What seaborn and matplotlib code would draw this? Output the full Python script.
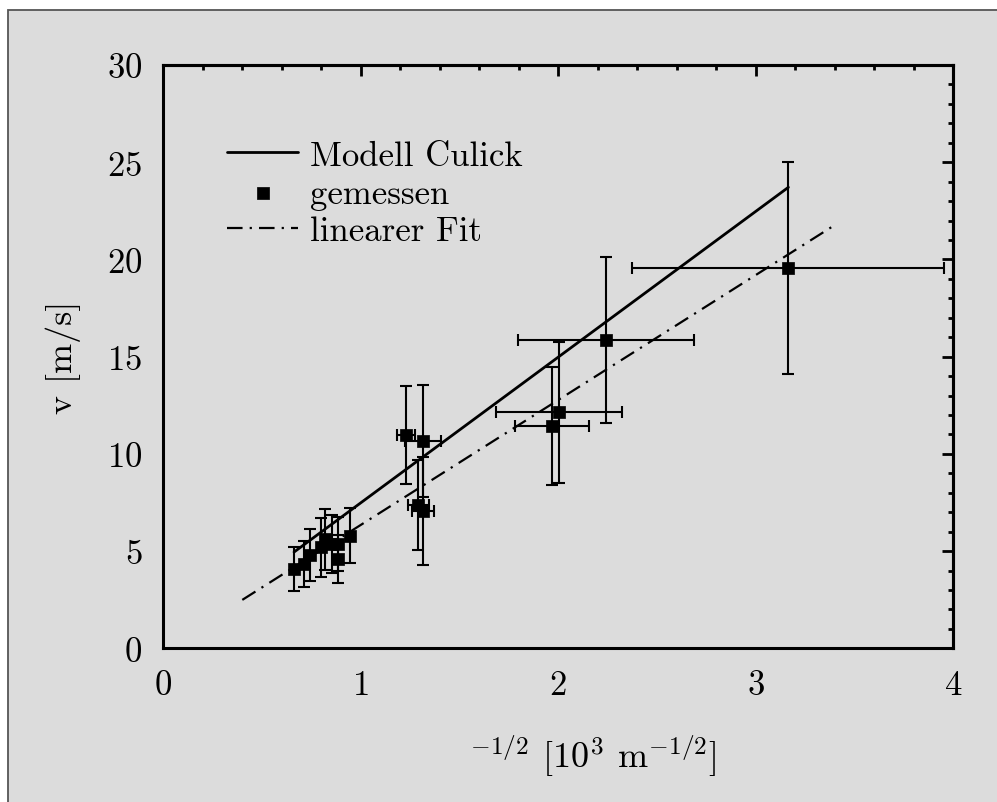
import numpy as np
import pandas as pd
import matplotlib
matplotlib.use('Agg')
import matplotlib.pyplot as plt
import seaborn as sns
from matplotlib.patches import Rectangle
from matplotlib.ticker import MultipleLocator

# ---- data ----
x_meas = [0.662, 0.714, 0.743, 0.798, 0.818, 0.853, 0.883, 0.886, 0.945,
          1.229, 1.316, 1.291, 1.316, 1.967, 2.005, 2.240, 3.165]
v_meas = [4.08, 4.34, 4.81, 5.20, 5.62, 5.37, 5.35, 4.59, 5.79,
          10.97, 10.66, 7.37, 7.08, 11.45, 12.14, 15.86, 19.55]
x_err = [0.0, 0.0, 0.0, 0.0, 0.0, 0.0, 0.0, 0.0, 0.0,
         0.046, 0.09, 0.052, 0.057, 0.188, 0.319, 0.446, 0.79]
v_err = [1.12, 1.18, 1.34, 1.52, 1.57, 1.49, 1.39, 1.25, 1.41,
         2.52, 2.90, 2.30, 2.78, 3.03, 3.62, 4.26, 5.44]
model_x = [0.662, 3.165]
model_v = [4.95, 23.71]
fit_x = [0.40, 3.40]
fit_v = [2.49, 21.77]

x_ticks = [0, 1, 2, 3, 4]
y_ticks = [0, 5, 10, 15, 20, 25, 30]

sns.set_theme(style='white')
plt.rcParams['font.family'] = ['cmr10']
plt.rcParams['mathtext.fontset'] = 'cm'
plt.rcParams['axes.formatter.use_mathtext'] = True
plt.rcParams['axes.unicode_minus'] = False

bg = '#dcdcdc'
W, H = 997, 803
fig = plt.figure(figsize=(W / 100, H / 100), dpi=100, facecolor='white')
fig.patches.append(Rectangle((8 / W, -0.1), 1.2, (1 - 11 / H) + 0.1,
                             transform=fig.transFigure, facecolor=bg,
                             edgecolor='#555555', linewidth=1.3, zorder=-10))
ax = fig.add_axes([163.3 / W, 1 - 649.3 / H, 790 / W, 583.3 / H])
ax.set_facecolor('none')

sns.lineplot(x=model_x, y=model_v, ax=ax, color='black', linewidth=2.0,
             label='Modell Culick')
ax.errorbar(x_meas, v_meas, xerr=x_err, yerr=v_err, fmt='none', ecolor='black',
            elinewidth=1.5, capsize=4.5, capthick=1.5, zorder=2)
sns.scatterplot(x=x_meas, y=v_meas, ax=ax, marker='s', s=72, color='black',
                edgecolor='black', linewidth=0.5, label='gemessen', zorder=3)
sns.lineplot(x=fit_x, y=fit_v, ax=ax, color='black', linewidth=1.6,
             linestyle=(0, (7.0, 3.2, 1.0, 3.2)), label='linearer Fit')

ax.set_xlim(0, 4)
ax.set_ylim(0, 30)
ax.set_xticks(x_ticks)
ax.set_yticks(y_ticks)
ax.xaxis.set_minor_locator(MultipleLocator(0.2))
ax.yaxis.set_minor_locator(MultipleLocator(1))
ax.tick_params(which='both', direction='out', top=False, right=False,
               width=2, color='black', labelsize=25, labelcolor='black')
ax.tick_params(which='major', length=8, pad=7)
ax.tick_params(which='minor', length=3.5)
for s in ax.spines.values():
    s.set_visible(True)
    s.set_linewidth(2.2)
    s.set_color('black')

secx = ax.secondary_xaxis('top')
secx.set_xticks(x_ticks)
secx.xaxis.set_minor_locator(MultipleLocator(0.2))
secx.tick_params(which='both', direction='in', labeltop=False, width=2, color='black')
secx.tick_params(which='major', length=8)
secx.tick_params(which='minor', length=3.5)
secx.spines['top'].set_linewidth(2.2)
secx.spines['top'].set_color('black')

secy = ax.secondary_yaxis('right')
secy.set_yticks(y_ticks)
secy.yaxis.set_minor_locator(MultipleLocator(1))
secy.tick_params(which='both', direction='in', labelright=False, width=2, color='black')
secy.tick_params(which='major', length=8)
secy.tick_params(which='minor', length=3.5)
secy.spines['right'].set_linewidth(2.2)
secy.spines['right'].set_color('black')

ax.set_ylabel('v [m/s]', fontsize=26, color='black')
ax.yaxis.set_label_coords((81 - 163.3) / 790, 0.5)
ax.set_xlabel(r'$^{\mathrm{-1/2}}$ [10$^{3}$ m$^{\mathrm{-1/2}}$]', fontsize=26, color='black')
ax.xaxis.set_label_coords((593 - 163.3) / 790, (649.3 - 733) / 583.3)

handles, labels = ax.get_legend_handles_labels()
leg = ax.legend(handles, labels, loc='upper left',
                bbox_to_anchor=((227 - 163.3) / 790, (649.3 - 141) / 583.3),
                frameon=False, fontsize=25, borderpad=0, borderaxespad=0,
                handlelength=2.05, handletextpad=0.35, labelspacing=0.18)
for t in leg.get_texts():
    t.set_color('black')

fig.savefig('out.png', dpi=100, facecolor='white')
